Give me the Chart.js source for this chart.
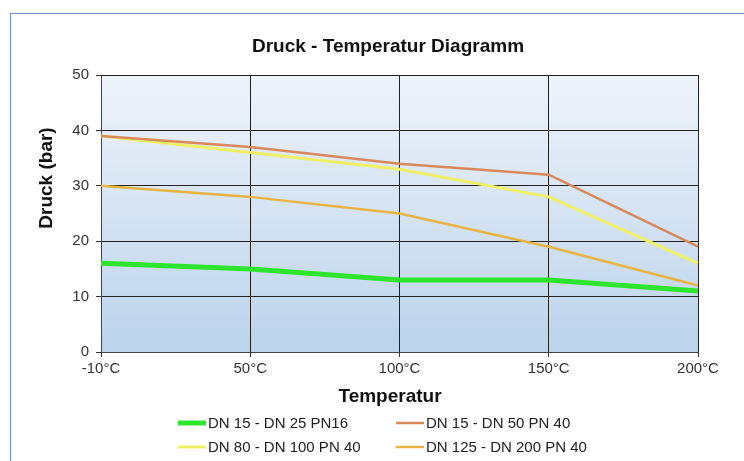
<!DOCTYPE html>
<html>
<head>
<meta charset="utf-8">
<script src="https://cdn.jsdelivr.net/npm/chart.js@4"></script>
<style>
    html, body { margin: 0; padding: 0; background: #fff; }
    #wrap { position: relative; width: 744px; height: 461px; }
    #frame {
        position: absolute; left: 10px; top: 13px; right: 0; bottom: 0;
        border-left: 1px solid #6a8fdc; border-top: 1px solid #6a8fdc;
        pointer-events: none;
    }
    canvas { position: absolute; left: 0; top: 0; }
</style>
</head>
<body>
<div id="wrap">
    <canvas id="chart" width="744" height="461"></canvas>
    <div id="frame"></div>
</div>
<script>
const temperatures = ['-10°C', '50°C', '100°C', '150°C', '200°C'];
const seriesNames = ['DN 15 - DN 25 PN16', 'DN 15 - DN 50 PN 40', 'DN 80 - DN 100 PN 40', 'DN 125 - DN 200 PN 40'];
const dn15to25pn16 = [16, 15, 13, 13, 11];
const dn15to50pn40 = [39, 37, 34, 32, 19];
const dn80to100pn40 = [39, 36, 33, 28, 16];
const dn125to200pn40 = [30, 28, 25, 19, 12];
const yTicks = [0, 10, 20, 30, 40, 50];

Chart.defaults.font.family = '"Liberation Sans", Arial, sans-serif';
Chart.defaults.color = '#333';

// plot background: light at the top, blue at the bottom
const areaGradient = {
    id: 'areaGradient',
    beforeDraw(chart) {
        const { ctx, chartArea: a } = chart;
        const g = ctx.createLinearGradient(0, a.top, 0, a.bottom);
        g.addColorStop(0, '#eef3fa');
        g.addColorStop(1, '#bcd3eb');
        ctx.save();
        ctx.fillStyle = g;
        ctx.fillRect(a.left, a.top, a.right - a.left, a.bottom - a.top);
        ctx.restore();
    }
};

// titles and the two-column legend
const texts = {
    id: 'texts',
    afterDraw(chart) {
        const ctx = chart.ctx;
        ctx.save();
        ctx.fillStyle = '#111';
        ctx.textAlign = 'center';
        ctx.textBaseline = 'middle';
        ctx.font = 'bold 19px "Liberation Sans", Arial, sans-serif';
        ctx.fillText('Druck - Temperatur Diagramm', 388, 47);
        ctx.fillText('Temperatur', 390, 397);
        ctx.save();
        ctx.translate(47, 178);
        ctx.rotate(-Math.PI / 2);
        ctx.fillText('Druck (bar)', 0, 0);
        ctx.restore();

        const cols = [178, 396];
        const rows = [423, 447];
        ctx.font = '15px "Liberation Sans", Arial, sans-serif';
        ctx.textAlign = 'left';
        ctx.fillStyle = '#222';
        chart.data.datasets.forEach((ds, i) => {
            const x = cols[i % 2], y = rows[Math.floor(i / 2)];
            ctx.strokeStyle = ds.borderColor;
            ctx.lineWidth = ds.borderWidth;
            ctx.beginPath();
            ctx.moveTo(x, y);
            ctx.lineTo(x + 28, y);
            ctx.stroke();
            ctx.fillText(ds.label, x + 30, y + 1);
        });
        ctx.restore();
    }
};

new Chart(document.getElementById('chart'), {
    type: 'line',
    data: {
        labels: temperatures,
        datasets: [
            { label: seriesNames[0], data: dn15to25pn16, borderColor: '#2ee52e', borderWidth: 5 },
            { label: seriesNames[1], data: dn15to50pn40, borderColor: '#d8895c', borderWidth: 2.5 },
            { label: seriesNames[2], data: dn80to100pn40, borderColor: '#f0f066', borderWidth: 3 },
            { label: seriesNames[3], data: dn125to200pn40, borderColor: '#e9b444', borderWidth: 2.5 }
        ]
    },
    options: {
        responsive: false,
        animation: false,
        layout: { padding: { top: 75, right: 46, bottom: 0, left: 0 } },
        elements: { point: { radius: 0 }, line: { tension: 0 } },
        scales: {
            x: {
                offset: false,
                afterFit: s => { s.height = 109; },
                grid: { color: '#222', tickLength: 5, tickColor: '#333' },
                border: { color: '#444' },
                ticks: { font: { size: 15 }, padding: 3, maxRotation: 0 }
            },
            y: {
                min: 0,
                max: 50,
                afterFit: s => { s.width = 101; },
                afterBuildTicks: s => { s.ticks = yTicks.map(v => ({ value: v })); },
                grid: { color: '#222', tickLength: 5, tickColor: '#333' },
                border: { color: '#444' },
                ticks: { font: { size: 15 }, padding: 7 }
            }
        },
        plugins: {
            legend: { display: false },
            title: { display: false },
            tooltip: { enabled: false }
        }
    },
    plugins: [areaGradient, texts]
});
</script>
</body>
</html>
